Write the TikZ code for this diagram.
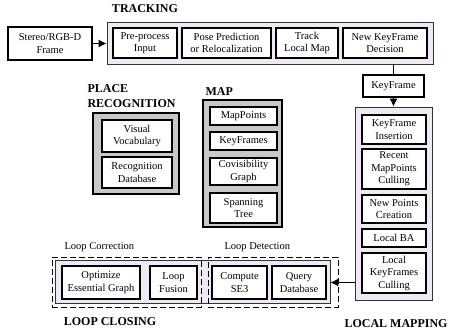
\documentclass[tikz,border=0pt]{standalone}
\usepackage{fontspec}
\setmainfont{Liberation Serif}
\usetikzlibrary{arrows.meta}
\definecolor{lav}{RGB}{238,233,243}
\definecolor{store}{RGB}{200,200,200}

\begin{document}
\begin{tikzpicture}[x=1pt,y=-1pt,
	block/.style={draw,line width=1.1pt,fill=white,align=center,inner sep=0pt,
		font=\fontsize{10.5}{12.5}\selectfont},
	thread/.style={draw=black!80,line width=0.9pt,fill=lav,inner sep=0pt},
	memory/.style={draw,line width=1.3pt,fill=store,inner sep=0pt},
	group/.style={draw,line width=1pt,dash pattern=on 6pt off 3pt,inner sep=0pt},
	title/.style={font=\fontsize{12}{15}\selectfont\bfseries},
	caption/.style={anchor=west,font=\fontsize{10.5}{12.5}\selectfont},
	flow/.style={line width=1pt,-{Latex[length=8pt,width=8pt]}}]
\useasboundingbox (0,0) rectangle (449,333);

% tracking
\node[block,minimum width=84,minimum height=33] (stereo) at (50,43.5) {Stereo/RGB-D\\Frame};
\node[thread,minimum width=326,minimum height=42] (tracking) at (270,43) {};
\node[block,minimum width=64,minimum height=30] (pre) at (145,43) {Pre-process\\Input};
\node[block,minimum width=89,minimum height=30] (pose) at (226.5,43) {Pose Prediction\\or Relocalization};
\node[block,minimum width=62,minimum height=30] (track) at (307,43) {Track\\Local Map};
\node[block,minimum width=84,minimum height=30] (newkf) at (385,43) {New KeyFrame\\Decision};
\node[title] (ttrack) at (145,9) {TRACKING};
\draw [flow] (stereo) -- (tracking.west |- stereo.east);

% keyframe
\node[block,minimum width=61,minimum height=22] (kf) at (393.5,86) {KeyFrame};
\draw [line width=1pt] (tracking.south -| kf.north) -- (kf.north);

% local mapping
\node[thread,minimum width=77,minimum height=193] (lmap) at (393.5,203.5) {};
\node[block,minimum width=64,minimum height=29] (kfi) at (394,129.5) {KeyFrame\\Insertion};
\node[block,minimum width=64,minimum height=40] (rmc) at (394,169) {Recent\\MapPoints\\Culling};
\node[block,minimum width=64,minimum height=28] (npc) at (394,209) {New Points\\Creation};
\node[block,minimum width=64,minimum height=18] (lba) at (394,238) {Local BA};
\node[block,minimum width=64,minimum height=40] (lkc) at (394,273) {Local\\KeyFrames\\Culling};
\node[title] (tlmap) at (396,324) {LOCAL MAPPING};
\draw [flow] (kf.south) -- (lmap.north);

% place recognition
\node[memory,minimum width=86,minimum height=81] (place) at (136,153.5) {};
\node[block,minimum width=70,minimum height=32] (vv) at (137,136) {Visual\\Vocabulary};
\node[block,minimum width=70,minimum height=31] (rd) at (137,172.5) {Recognition\\Database};
\node[title,anchor=west,align=left] (tplace) at (84,96.5) {PLACE\\RECOGNITION};

% map
\node[memory,minimum width=79,minimum height=127] (map) at (242.5,163.5) {};
\node[block,minimum width=67,minimum height=18] (mp) at (243.5,116) {MapPoints};
\node[block,minimum width=67,minimum height=18] (kfs) at (243.5,141) {KeyFrames};
\node[block,minimum width=67,minimum height=27] (cov) at (243.5,171.5) {Covisibility\\Graph};
\node[block,minimum width=67,minimum height=30] (span) at (243.5,208) {Spanning\\Tree};
\node[title,anchor=west] (tmap) at (202,91.5) {MAP};

% loop closing
\node[thread,minimum width=275,minimum height=43] (closing) at (192.5,281.5) {};
\node[group,minimum width=149,minimum height=50] (corr) at (126.5,282) {};
\node[group,minimum width=130,minimum height=50] (det) at (273,282) {};
\node[block,minimum width=78,minimum height=33] (opt) at (101,282.5) {Optimize\\Essential Graph};
\node[block,minimum width=47,minimum height=33] (fus) at (173.5,282.5) {Loop\\Fusion};
\node[block,minimum width=55,minimum height=33] (se3) at (239.5,282.5) {Compute\\SE3};
\node[block,minimum width=54,minimum height=33] (query) at (299,282.5) {Query\\Database};
\node[caption] (lcorr) at (61,247) {Loop Correction};
\node[caption] (ldet) at (221,247) {Loop Detection};
\node[title] (tclose) at (110,322) {LOOP CLOSING};
\draw [flow] (lmap.west |- query.east) -- (closing.east |- query.east);
\end{tikzpicture}
\end{document}
